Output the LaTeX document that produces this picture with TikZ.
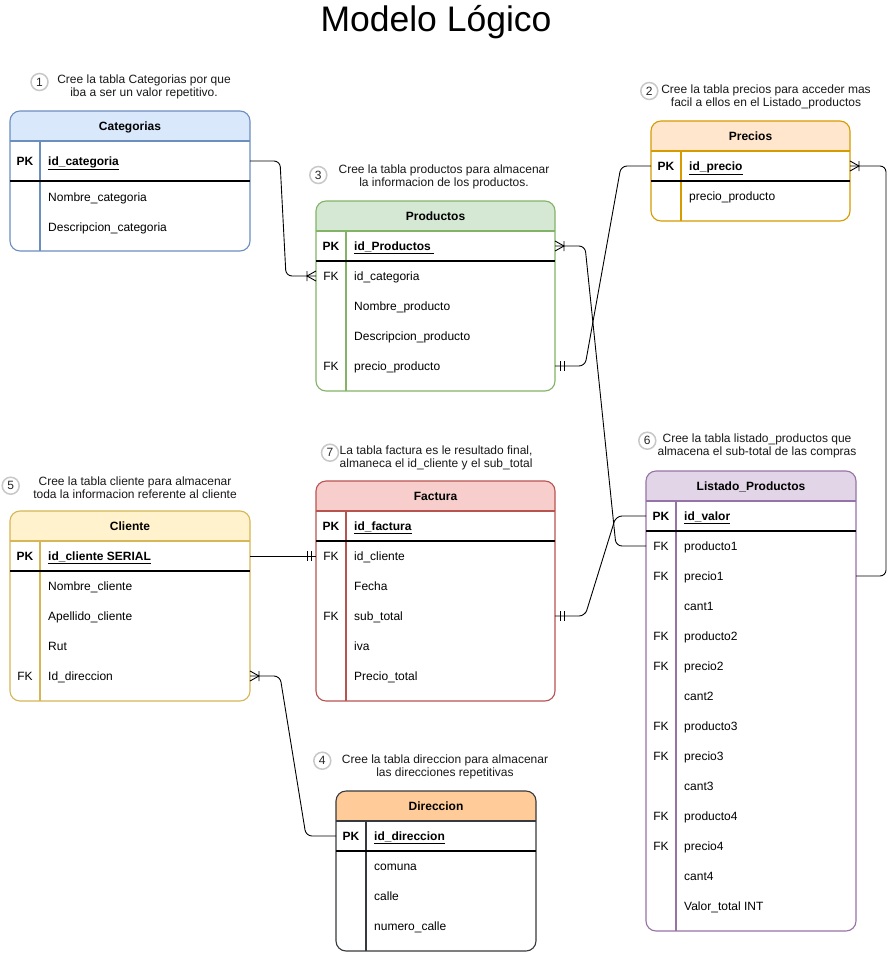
\documentclass[tikz,border=0pt]{standalone}
\usepackage{fontspec}
\setmainfont{Liberation Sans}
\definecolor{catfill}{HTML}{DAE8FC}\definecolor{catline}{HTML}{6C8EBF}
\definecolor{prodfill}{HTML}{D5E8D4}\definecolor{prodline}{HTML}{82B366}
\definecolor{prefill}{HTML}{FFE6CC}\definecolor{preline}{HTML}{D79B00}
\definecolor{lisfill}{HTML}{E1D5E7}\definecolor{lisline}{HTML}{9673A6}
\definecolor{facfill}{HTML}{F8CECC}\definecolor{facline}{HTML}{B85450}
\definecolor{clifill}{HTML}{FFF2CC}\definecolor{cliline}{HTML}{D6B656}
\definecolor{dirfill}{HTML}{FFCC99}\definecolor{dirline}{HTML}{36393D}
\definecolor{circgray}{HTML}{C8C8C8}
\newcommand\erframe[8]{%
  \fill[#7] (#1,#5) [rounded corners=10pt] -- (#1,#2) -- (#3,#2) [sharp corners] -- (#3,#5) -- cycle;
  \draw[#8, tline] (#1,#5) -- (#3,#5);
  \draw[#8, tline] (#6,#5) -- (#6,#4);
  \draw[#8, tline, rounded corners=10pt] (#1,#2) rectangle (#3,#4);
}
\newcommand\erhead[5]{%
  \node[hdr] (#1) at ({(#2+#3)/2},{#4+4.5}) {#5};
}
\newcommand\errow[7]{%
  \node[rowbox, minimum width={#3-#2}] (#1) at ({(#2+#3)/2},#5) {};
  \node[keytxt] (#1-k) at ({(#2+#4)/2},{#5+4.5}) {#6};
  \node[fieldtxt] (#1-f) at ({#4+8},{#5+4.5}) {#7};
}
\tikzset{
  every node/.style={font=\fontsize{12}{14}\selectfont},
  tline/.style={line width=1.1pt},
  rowbox/.style={minimum height=30pt, inner sep=0pt, outer sep=0pt, draw=none},
  hdr/.style={anchor=base, inner sep=0pt, font=\fontsize{12}{14}\selectfont\bfseries},
  keytxt/.style={anchor=base, inner sep=0pt},
  fieldtxt/.style={anchor=base west, inner sep=0pt},
  numcirc/.style={circle, draw=circgray, line width=1.5pt, minimum size=17pt, inner sep=0pt, text=black!85},
  note/.style={align=center, inner sep=0pt, font=\fontsize{12}{13}\selectfont, text=black!90},
  edge/.style={draw=black, line width=0.9pt, rounded corners=6pt},
  onemany/.pic={\draw[line width=0.9pt] (-9,-5) -- (-9,5) (0,-5) -- (-9,0) -- (0,5);},
  mandone/.pic={\draw[line width=0.9pt] (-5,-5) -- (-5,5) (-9,-5) -- (-9,5);},
}
\begin{document}
\begin{tikzpicture}[x=1pt,y=-1pt]
\fill[white] (0,0) rectangle (896,953);
\useasboundingbox (0,0) rectangle (896,953);

\node[anchor=base, inner sep=0pt, font=\fontsize{35.5}{40}\selectfont] (title) at (436,31) {Modelo Lógico};

% ---------- Categorias
\erframe{10}{111}{250}{251}{141}{40}{catfill}{catline}
\draw[tline] (10,181) -- (250,181);
\erhead{cat-h}{10}{250}{126}{Categorias}
\errow{cat-pk}{10}{250}{40}{161}{\textbf{PK}}{\textbf{\underline{id\_categoria}}}
\errow{cat-r1}{10}{250}{40}{197}{}{Nombre\_categoria}
\errow{cat-r2}{10}{250}{40}{227}{}{Descripcion\_categoria}

% ---------- Productos
\erframe{316}{201}{555}{391}{231}{346}{prodfill}{prodline}
\draw[tline] (316,261) -- (555,261);
\erhead{prod-h}{316}{555}{216}{Productos}
\errow{prod-pk}{316}{555}{346}{246}{\textbf{PK}}{\textbf{\underline{id\_Productos\ }}}
\errow{prod-r1}{316}{555}{346}{276}{FK}{id\_categoria}
\errow{prod-r2}{316}{555}{346}{306}{}{Nombre\_producto}
\errow{prod-r3}{316}{555}{346}{336}{}{Descripcion\_producto}
\errow{prod-r4}{316}{555}{346}{366}{FK}{precio\_producto}

% ---------- Precios
\erframe{651}{121}{850}{221}{151}{681}{prefill}{preline}
\draw[tline] (651,181) -- (850,181);
\erhead{pre-h}{651}{850}{136}{Precios}
\errow{pre-pk}{651}{850}{681}{166}{\textbf{PK}}{\textbf{\underline{id\_precio}}}
\errow{pre-r1}{651}{850}{681}{196}{}{precio\_producto}

% ---------- Listado_Productos
\erframe{646}{471}{856}{931}{501}{676}{lisfill}{lisline}
\draw[tline] (646,531) -- (856,531);
\erhead{lis-h}{646}{856}{486}{Listado\_Productos}
\errow{lis-pk}{646}{856}{676}{516}{\textbf{PK}}{\textbf{\underline{id\_valor}}}
\errow{lis-r1}{646}{856}{676}{546}{FK}{producto1}
\errow{lis-r2}{646}{856}{676}{576}{FK}{precio1}
\errow{lis-r3}{646}{856}{676}{606}{}{cant1}
\errow{lis-r4}{646}{856}{676}{636}{FK}{producto2}
\errow{lis-r5}{646}{856}{676}{666}{FK}{precio2}
\errow{lis-r6}{646}{856}{676}{696}{}{cant2}
\errow{lis-r7}{646}{856}{676}{726}{FK}{producto3}
\errow{lis-r8}{646}{856}{676}{756}{FK}{precio3}
\errow{lis-r9}{646}{856}{676}{786}{}{cant3}
\errow{lis-r10}{646}{856}{676}{816}{FK}{producto4}
\errow{lis-r11}{646}{856}{676}{846}{FK}{precio4}
\errow{lis-r12}{646}{856}{676}{876}{}{cant4}
\errow{lis-r13}{646}{856}{676}{906}{}{Valor\_total INT}

% ---------- Factura
\erframe{316}{481}{555}{701}{511}{346}{facfill}{facline}
\draw[tline] (316,541) -- (555,541);
\erhead{fac-h}{316}{555}{496}{Factura}
\errow{fac-pk}{316}{555}{346}{526}{\textbf{PK}}{\textbf{\underline{id\_factura}}}
\errow{fac-r1}{316}{555}{346}{556}{FK}{id\_cliente}
\errow{fac-r2}{316}{555}{346}{586}{}{Fecha}
\errow{fac-r3}{316}{555}{346}{616}{FK}{sub\_total}
\errow{fac-r4}{316}{555}{346}{646}{}{iva}
\errow{fac-r5}{316}{555}{346}{676}{}{Precio\_total}

% ---------- Cliente
\erframe{10}{511}{250}{701}{541}{40}{clifill}{cliline}
\draw[tline] (10,571) -- (250,571);
\erhead{cli-h}{10}{250}{526}{Cliente}
\errow{cli-pk}{10}{250}{40}{556}{\textbf{PK}}{\textbf{\underline{id\_cliente SERIAL}}}
\errow{cli-r1}{10}{250}{40}{586}{}{Nombre\_cliente}
\errow{cli-r2}{10}{250}{40}{616}{}{Apellido\_cliente}
\errow{cli-r3}{10}{250}{40}{646}{}{Rut}
\errow{cli-r4}{10}{250}{40}{676}{FK}{Id\_direccion}

% ---------- Direccion
\erframe{336}{791}{536}{951}{821}{366}{dirfill}{dirline}
\draw[tline] (336,851) -- (536,851);
\erhead{dir-h}{336}{536}{806}{Direccion}
\errow{dir-pk}{336}{536}{366}{836}{\textbf{PK}}{\textbf{\underline{id\_direccion}}}
\errow{dir-r1}{336}{536}{366}{866}{}{comuna}
\errow{dir-r2}{336}{536}{366}{896}{}{calle}
\errow{dir-r3}{336}{536}{366}{926}{}{numero\_calle}

% ---------- annotations
\node[numcirc] (n1) at (39.5,82) {1};
\node[note] (t1) at (144,87) {Cree la tabla Categorias por que\\iba a ser un valor repetitivo.};
\node[numcirc] (n2) at (649.3,91) {2};
\node[note] (t2) at (766,97) {Cree la tabla precios para acceder mas\\facil a ellos en el Listado\_productos};
\node[numcirc] (n3) at (318.3,175) {3};
\node[note] (t3) at (444,177) {Cree la tabla productos para almacenar\\la informacion de los productos.};
\node[numcirc] (n4) at (322.3,760.7) {4};
\node[note] (t4) at (445,767) {Cree la tabla direccion para almacenar\\las direcciones repetitivas};
\node[numcirc] (n5) at (10.7,485.7) {5};
\node[note] (t5) at (135,488) {Cree la tabla cliente para almacenar\\toda la informacion referente al cliente};
\node[numcirc] (n6) at (647.3,440.7) {6};
\node[note] (t6) at (757,446) {Cree la tabla listado\_productos que\\almacena el sub-total de las compras};
\node[numcirc] (n7) at (330,452.7) {7};
\node[note, align=left, anchor=west] (t7) at (339.5,457.5) {La tabla factura es le resultado final,\\almaneca el id\_cliente y el sub\_total};

% ---------- connectors
\draw[edge] (cat-pk.east) -- ++(30,0) -- ([xshift=-30pt]prod-r1.west) -- (prod-r1.west);
\pic at (prod-r1.west) {onemany};

\draw[edge] (prod-pk.east) -- ++(30,0) -- ([xshift=-30pt]lis-r1.west) -- (lis-r1.west);
\pic[xscale=-1] at (prod-pk.east) {onemany};

\draw[edge] (prod-r4.east) -- ++(30,0) -- ([xshift=-30pt]pre-pk.west) -- (pre-pk.west);
\pic[xscale=-1] at (prod-r4.east) {mandone};

\draw[edge] (pre-pk.east) -- ++(36,0) |- (lis-r2.east);
\pic[xscale=-1] at (pre-pk.east) {onemany};

\draw[edge] (cli-pk.east) -- (fac-r1.west);
\pic at (fac-r1.west) {mandone};

\draw[edge] (fac-r3.east) -- ++(30,0) -- ([xshift=-30pt]lis-pk.west) -- (lis-pk.west);
\pic[xscale=-1] at (fac-r3.east) {mandone};

\draw[edge] (cli-r4.east) -- ++(30,0) -- ([xshift=-30pt]dir-pk.west) -- (dir-pk.west);
\pic[xscale=-1] at (cli-r4.east) {onemany};
\end{tikzpicture}
\end{document}
